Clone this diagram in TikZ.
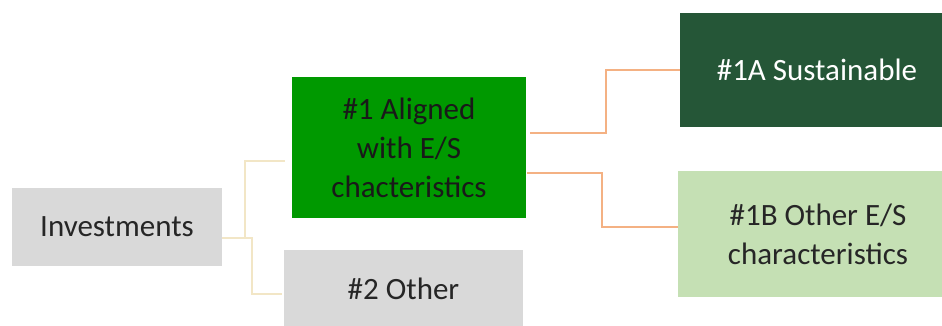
\documentclass[tikz,border=0pt]{standalone}
\usepackage{fontspec}
\setmainfont{Carlito}
\usepackage{xcolor}
\usetikzlibrary{positioning, calc}
\definecolor{boxgray}{HTML}{D9D9D9}
\definecolor{boxgreen}{HTML}{009900}
\definecolor{boxdark}{HTML}{255637}
\definecolor{boxlight}{HTML}{C5E0B4}
\definecolor{linkbeige}{HTML}{F2E6C6}
\definecolor{linkorange}{HTML}{F4B183}
\definecolor{txtgray}{HTML}{262626}
\tikzset{
  basebox/.style={rectangle, inner sep=0pt, align=center, font=\fontsize{31}{39}\selectfont},
  graybox/.style={basebox, fill=boxgray, text=txtgray},
  greenbox/.style={basebox, fill=boxgreen, text=black!90},
  darkbox/.style={basebox, fill=boxdark, text=white},
  lightbox/.style={basebox, fill=boxlight, text=txtgray},
  invlink/.style={draw=linkbeige, line width=2pt},
  aligndlink/.style={draw=linkorange, line width=2pt}
}

\begin{document}
\begin{tikzpicture}[x=1pt, y=-1pt]
\useasboundingbox (0,0) rectangle (942,325);
\clip (0,0) rectangle (942,325);

% Boxes
\node (inv) [graybox, minimum width=210pt, minimum height=78pt] at (117,227) {Investments};
\node (aligned) [greenbox, minimum width=234pt, minimum height=141pt] at (409,147.5) {\#1 Aligned\\with E/S\\chacteristics};
\node (other) [graybox, minimum width=239pt, minimum height=78pt] at (403.5,289) {\#2 Other};
\node (sust) [darkbox, minimum width=274pt, minimum height=114pt] at (817,70) {\#1A Sustainable};
\node (esb) [lightbox, minimum width=280pt, minimum height=126pt] at (818,234) {\#1B Other E/S\\characteristics};

% Links
\draw [invlink] ([yshift=-11pt]inv.east) -- ++(23,0) |- ([xshift=-7pt,yshift=-13.5pt]aligned.west);
\draw [invlink] ([yshift=-11pt]inv.east) -- ++(30,0) |- ([xshift=-2pt,yshift=-5pt]other.west);
\draw [aligndlink] ([xshift=4pt,yshift=14.5pt]aligned.east) -- ++(76,0) |- (sust.west);
\draw [aligndlink] ([xshift=1pt,yshift=-25.5pt]aligned.east) -- ++(75,0) |- ([yshift=7pt]esb.west);

\end{tikzpicture}
\end{document}
